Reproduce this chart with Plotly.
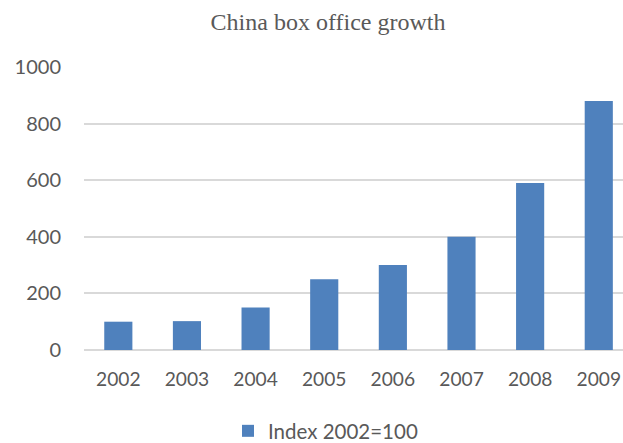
import plotly.graph_objects as go

years = ["2002", "2003", "2004", "2005", "2006", "2007", "2008", "2009"]
index_values = [100, 102, 150, 250, 300, 400, 590, 880]
series_name = "Index 2002=100"
title_text = "China box office growth"

W, H = 623, 443

fig = go.Figure()
fig.add_trace(go.Bar(
    x=years, y=index_values, name=series_name,
    marker=dict(color="#4F81BD", line=dict(width=0)),
    width=0.41, showlegend=True,
))

tick_font = dict(family="Lato, 'Open Sans', sans-serif", size=20, color="#595959")
xtick_font = dict(family="Lato, 'Open Sans', sans-serif", size=19.2, color="#595959")

fig.update_layout(
    width=W, height=H,
    paper_bgcolor="white", plot_bgcolor="white",
    margin=dict(l=84, r=0, t=67, b=93, autoexpand=False),
    title=dict(text=title_text, x=328 / W, xanchor="center", xref="container",
               y=1 - 22 / H, yanchor="middle", yref="container",
               font=dict(family="Liberation Serif, 'Times New Roman', serif", size=24, color="#595959")),
    xaxis=dict(type="category", range=[-0.5, 7.353], showgrid=False, showline=False,
               ticks="", tickfont=xtick_font, ticklabelstandoff=16, fixedrange=True),
    yaxis=dict(range=[0, 1000], dtick=200, showgrid=True, gridcolor="#D9D9D9", gridwidth=1.5,
               zeroline=True, zerolinecolor="#D9D9D9", zerolinewidth=1.5,
               ticks="", tickfont=tick_font, ticklabelstandoff=22),
    legend=dict(orientation="h", x=228 / W, xanchor="left", xref="container",
                y=1 - 431 / H, yanchor="middle", yref="container",
                font=dict(family="Lato, 'Open Sans', sans-serif", size=20.5, color="#595959"),
                itemwidth=30),
)

# remove the browser's default 8px body margin so the 623x443 figure fills the window exactly
fig.write_html("out.html", config={"displayModeBar": False},
               post_script="document.body.style.margin='0';document.body.style.overflow='hidden';")
